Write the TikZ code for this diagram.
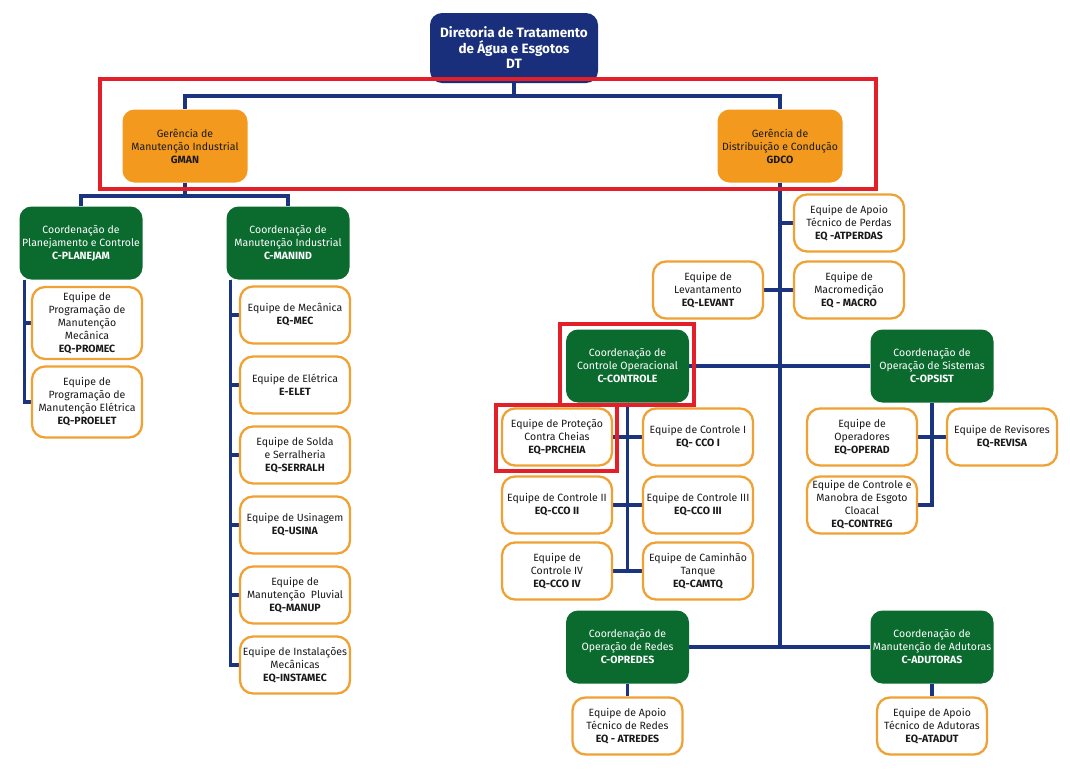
\documentclass[tikz,border=0pt]{standalone}
\usepackage{fontspec}
\setmainfont{Fira Sans}
\usepackage{tikz}
\pgfdeclarelayer{bg}
\pgfdeclarelayer{fg}
\pgfsetlayers{bg,main,fg}
\definecolor{dtnavy}{HTML}{1A2F7C}
\definecolor{linenavy}{HTML}{1B3480}
\definecolor{gorange}{HTML}{F39A1E}
\definecolor{eqorange}{HTML}{EFA233}
\definecolor{cgreen}{HTML}{0B6B2F}
\definecolor{framered}{HTML}{E3202A}
\tikzset{
  dir/.style={fill=dtnavy, rounded corners=12pt, minimum width=168pt, minimum height=70pt,
    text=white, align=center, inner sep=1pt, font=\fontsize{13.5}{15.5}\selectfont\bfseries},
  geren/.style={fill=gorange, rounded corners=12pt, minimum width=125pt, minimum height=73pt,
    text=black!90, align=center, inner sep=1pt, font=\fontsize{10.5}{13}\selectfont},
  coord/.style={fill=cgreen, rounded corners=12pt, minimum width=123pt, minimum height=73pt,
    text=white, align=center, inner sep=1pt, font=\fontsize{10.5}{13}\selectfont},
  equipe/.style={draw=eqorange, line width=2.3pt, fill=white, rounded corners=13pt,
    minimum width=110pt, minimum height=57pt, text=black!90, align=center, inner sep=1pt,
    font=\fontsize{10.5}{13}\selectfont},
  conn/.style={draw=linenavy, line width=3.2pt},
  redframe/.style={draw=framered, line width=4pt}
}
\begin{document}
\begin{tikzpicture}[x=1pt,y=-1pt]
        \useasboundingbox (0,0) rectangle (1070,771);
        % direction and managements
        \node (dt) [dir] at (514,48) {Diretoria de Tratamento\\de Água e Esgotos\\DT};
        \node (gman) [geren] at (185,146) {Gerência de\\Manutenção Industrial\\\textbf{GMAN}};
        \node (gdco) [geren] at (780,146) {Gerência de\\Distribuição e Condução\\\textbf{GDCO}};
        \coordinate (j0) at (514,96);
        \coordinate (j1) at (185,196);
        % GMAN side
        \node (cplan) [coord] at (81,243) {Coordenação de\\Planejamento e Controle\\\textbf{C-PLANEJAM}};
        \node (cmanind) [coord] at (288,243) {Coordenação de\\Manutenção Industrial\\\textbf{C-MANIND}};
        \node (promec) [equipe, minimum height=72pt] at (87,323) {Equipe de\\Programação de\\Manutenção\\Mecânica\\\textbf{EQ-PROMEC}};
        \node (proelet) [equipe, minimum height=71pt] at (87,402) {Equipe de\\Programação de\\Manutenção Elétrica\\\textbf{EQ-PROELET}};
        \node (mec) [equipe] at (295,315) {Equipe de Mecânica\\\textbf{EQ-MEC}};
        \node (elet) [equipe] at (295,385) {Equipe de Elétrica\\\textbf{E-ELET}};
        \node (serralh) [equipe] at (295,455) {Equipe de Solda\\e Serralheria\\\textbf{EQ-SERRALH}};
        \node (usina) [equipe] at (295,525) {Equipe de Usinagem\\\textbf{EQ-USINA}};
        \node (manup) [equipe] at (295,595) {Equipe de\\Manutenção~ Pluvial\\\textbf{EQ-MANUP}};
        \node (instamec) [equipe] at (295,665) {Equipe de Instalações\\Mecânicas\\\textbf{EQ-INSTAMEC}};
        % GDCO side
        \node (atperdas) [equipe] at (849,223) {Equipe de Apoio\\Técnico de Perdas\\\textbf{EQ -ATPERDAS}};
        \node (macro) [equipe] at (849,290) {Equipe de\\Macromedição\\\textbf{EQ - MACRO}};
        \node (levant) [equipe] at (708,290) {Equipe de\\Levantamento\\\textbf{EQ-LEVANT}};
        \node (ccontrole) [coord] at (627.5,366) {Coordenação de\\Controle Operacional\\\textbf{C-CONTROLE}};
        \node (copsist) [coord] at (932,366) {Coordenação de\\Operação de Sistemas\\\textbf{C-OPSIST}};
        \node (prcheia) [equipe] at (557,437) {Equipe de Proteção\\Contra Cheias\\\textbf{EQ-PRCHEIA}};
        \node (cco1) [equipe] at (698,437) {Equipe de Controle I\\\textbf{EQ- CCO I}};
        \node (cco2) [equipe] at (557,505) {Equipe de Controle II\\\textbf{EQ-CCO II}};
        \node (cco3) [equipe] at (698,505) {Equipe de Controle III\\\textbf{EQ-CCO III}};
        \node (cco4) [equipe] at (557,571) {Equipe de\\Controle IV\\\textbf{EQ-CCO IV}};
        \node (camtq) [equipe] at (698,571) {Equipe de Caminhão\\Tanque\\\textbf{EQ-CAMTQ}};
        \node (operad) [equipe] at (862,437) {Equipe de\\Operadores\\\textbf{EQ-OPERAD}};
        \node (revisa) [equipe] at (1002,437) {Equipe de Revisores\\\textbf{EQ-REVISA}};
        \node (contreg) [equipe] at (862,505) {Equipe de Controle e\\Manobra de Esgoto\\Cloacal\\\textbf{EQ-CONTREG}};
        \node (copredes) [coord] at (627.5,647) {Coordenação de\\Operação de Redes\\\textbf{C-OPREDES}};
        \node (cadutoras) [coord] at (932,647) {Coordenação de\\Manutenção de Adutoras\\\textbf{C-ADUTORAS}};
        \node (atredes) [equipe] at (627.5,726) {Equipe de Apoio\\Técnico de Redes\\\textbf{EQ - ATREDES}};
        \node (atadut) [equipe] at (932,726) {Equipe de Apoio\\Técnico de Adutoras\\\textbf{EQ-ATADUT}};
        \begin{pgfonlayer}{bg}
                \draw [conn] (dt) -- (j0) -| (gman);
                \draw [conn] (j0) -| (gdco);
                \draw [conn] (gman) -- (j1) -| (cplan);
                \draw [conn] (j1) -| (cmanind);
                \draw [conn] ([xshift=5pt]cplan.south west) |- (promec);
                \draw [conn] ([xshift=5pt]cplan.south west) |- (proelet);
                \foreach \n in {mec,elet,serralh,usina,manup,instamec}
                        \draw [conn] ([xshift=4pt]cmanind.south west) |- (\n);
                \foreach \n in {atperdas,macro,levant,ccontrole,copsist,copredes,cadutoras}
                        \draw [conn] (gdco) |- (\n);
                \foreach \n in {prcheia,cco1,cco2,cco3,cco4,camtq}
                        \draw [conn] (ccontrole) |- (\n);
                \foreach \n in {operad,revisa,contreg}
                        \draw [conn] (copsist) |- (\n);
                \draw [conn] (copredes) -- (atredes);
                \draw [conn] (cadutoras) -- (atadut);
        \end{pgfonlayer}
        \begin{pgfonlayer}{fg}
                \draw [redframe] (100,79) rectangle (876,189);
                \draw [redframe] (560,324) rectangle (694,405);
                \draw [redframe] (496,405) rectangle (617,471);
        \end{pgfonlayer}
\end{tikzpicture}
\end{document}
